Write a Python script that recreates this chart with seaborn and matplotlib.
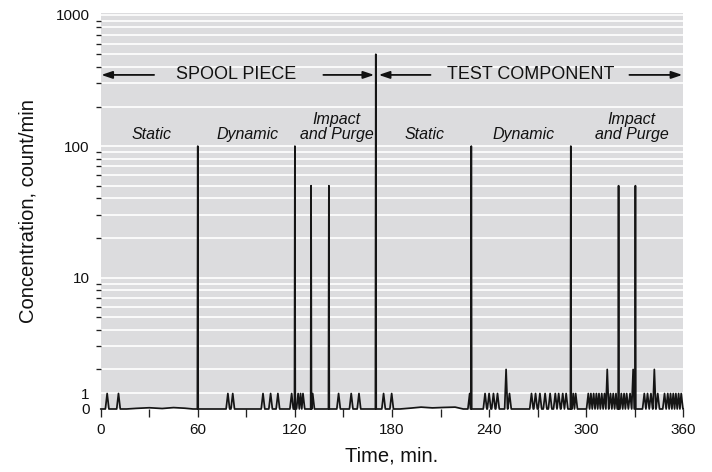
import numpy as np
import pandas as pd
import matplotlib
matplotlib.use("Agg")
import matplotlib.pyplot as plt
from matplotlib.ticker import FixedLocator, NullFormatter
import seaborn as sns

# ---------------- data ----------------
# tall spikes: time (min) and peak concentration
tall_t = [60, 120, 130, 141, 170, 229, 290.5, 320, 330.4]
tall_v = [100, 100, 50, 50, 500, 100, 100, 50, 50]
# medium spikes (peak ~2 counts/min)
mid_t = [250.5, 313, 329, 342.1]
mid_v = [2, 2, 2, 2]
# small spikes (peak 1 count/min)
small_t = [4, 11, 78.6, 81.6, 100.3, 105, 109.5, 118, 122, 123.5, 125, 131,
           147, 154.8, 159.6, 174.8, 179.8,
           228, 237.5, 240, 242.7, 245.2, 252.6, 266.2, 268.7, 271.4, 274.6,
           277.7, 280.9, 283, 285.5, 287.6, 292, 293.5,
           301.3, 302.9, 304.6, 306.3, 307.9, 309.6, 311.3, 315, 316.7, 318.4,
           321.7, 323.4, 325, 327.1, 335.9, 337.9, 340, 344.2, 348.4, 350.4,
           352.1, 353.8, 355.4, 357.1, 358.7]
small_v = [1] * len(small_t)
# slight wiggles of the baseline in the quiet stretches
base_t = [0, 16, 22, 30, 38, 45, 52, 57, 86, 95, 113, 136, 165, 185, 192,
          198, 205, 212, 219, 224, 256, 261, 297, 360]
base_v = [0, 0, 0.04, 0.08, 0.03, 0.09, 0.05, 0, 0, 0, 0, 0, 0, 0, 0.06,
          0.12, 0.07, 0.1, 0.12, 0, 0, 0, 0, 0]

# axis tick values / labels
x_major = [0, 60, 120, 180, 240, 300, 360]
x_minor = [30, 90, 150, 210, 270, 330]
y_major = [0, 1, 10, 100, 1000]
y_major_lbl = ["0", "1", "10", "100", "1000"]
y_minor = [2, 3, 4, 5, 6, 7, 8, 9, 20, 30, 40, 50, 60, 70, 80, 90,
           200, 300, 400, 500, 600, 700, 800, 900]

# ---------------- build the trace polyline from the spike list ----------------
spikes = sorted([(t, v, 0.25) for t, v in zip(tall_t, tall_v)] +
                [(t, v, 0.9) for t, v in zip(mid_t, mid_v)] +
                [(t, v, 1.1) for t, v in zip(small_t, small_v)])
pts = []
for i, (t, v, hw) in enumerate(spikes):
    left_gap = t - spikes[i - 1][0] if i > 0 else 10
    right_gap = spikes[i + 1][0] - t if i < len(spikes) - 1 else 10
    hl = min(hw, left_gap / 2)
    hr = min(hw, right_gap / 2)
    pts += [(t - hl, 0.0), (t, v), (t + hr, 0.0)]
pts += list(zip(base_t, base_v))
pts.sort(key=lambda p: p[0])
df = pd.DataFrame(pts, columns=["time", "conc"])

# ---------------- custom vertical scale (0 and 1 squeezed at bottom, log above) ----------------
K1 = 0.118
L2 = np.log10(2)


def fwd(v):
    v = np.asarray(v, dtype=float)
    return np.where(v <= 1, v * K1,
                    np.where(v < 2, K1 + (v - 1) * (L2 - K1),
                             np.log10(np.maximum(v, 2))))


def inv(p):
    p = np.asarray(p, dtype=float)
    return np.where(p <= K1, p / K1,
                    np.where(p < L2, 1 + (p - K1) / (L2 - K1),
                             10 ** np.clip(p, L2, 12)))


# ---------------- styling ----------------
sns.set_style("white", {"axes.facecolor": "#dcdcde"})
plt.rcParams["font.family"] = ["Liberation Sans", "DejaVu Sans"]

fig = plt.figure(figsize=(7.12, 4.72), dpi=100)
ax = fig.add_axes([0.1414, 0.1335, 0.8183, 0.8396])
ax.set_facecolor("#dcdcde")

ax.set_yscale("function", functions=(fwd, inv))
ax.set_ylim(0, 1036)
ax.set_xlim(0, 360)

sns.lineplot(data=df, x="time", y="conc", ax=ax, color="#151515",
             linewidth=1.25, estimator=None, sort=False, clip_on=False)

# ticks
ax.yaxis.set_major_locator(FixedLocator(y_major))
ax.set_yticklabels(y_major_lbl)
ax.yaxis.set_minor_locator(FixedLocator(y_minor))
ax.yaxis.set_minor_formatter(NullFormatter())
ax.set_xticks(x_major)
ax.set_xticklabels([str(v) for v in x_major])
ax.set_xticks(x_minor, minor=True)

ax.tick_params(axis="both", which="both", direction="out", color="#222222",
               width=0.95, labelsize=11, labelcolor="#111111")
ax.tick_params(axis="y", which="major", length=5, pad=3)
ax.tick_params(axis="y", which="minor", length=3.4, left=True)
ax.tick_params(axis="x", which="both", length=6, pad=4, bottom=True)

ax.grid(True, which="both", axis="y", color="white", linewidth=1.2)
ax.grid(False, axis="x")
ax.set_axisbelow(True)
for s in ax.spines.values():
    s.set_visible(False)

ax.set_xlabel("Time, min.", fontsize=14.5, labelpad=7, color="#111111")
ax.set_ylabel("Concentration, count/min", fontsize=14.5, labelpad=13,
              color="#111111")

# ---------------- annotations ----------------
tr = ax.get_xaxis_transform()
y_arrow = 0.843
ax.text(83.4, y_arrow, "SPOOL PIECE", transform=tr, ha="center", va="center",
        fontsize=13, color="#111111")
ax.text(266, y_arrow, "TEST COMPONENT", transform=tr, ha="center",
        va="center", fontsize=13, color="#111111")
aprops = dict(arrowstyle="-|>,head_length=0.65,head_width=0.22",
              mutation_scale=10, color="#111111", lw=1.3,
              shrinkA=0, shrinkB=0)
for tail, head in [(33, 0.4), (137.6, 169.0), (203.8, 171.8), (326.7, 359.4)]:
    ax.annotate("", xy=(head, y_arrow), xytext=(tail, y_arrow),
                xycoords=tr, textcoords=tr, arrowprops=aprops)

y_phase = 0.6725
for x, lbl in [(31.3, "Static"), (90.5, "Dynamic"),
               (145.8, "Impact\nand Purge"),
               (200.1, "Static"), (261, "Dynamic"),
               (328, "Impact\nand Purge")]:
    ax.text(x, y_phase, lbl, transform=tr, ha="center", va="bottom",
            fontsize=11.5, style="italic", linespacing=1.0, color="#111111",
            multialignment="center")

fig.savefig("out.png", dpi=100)
